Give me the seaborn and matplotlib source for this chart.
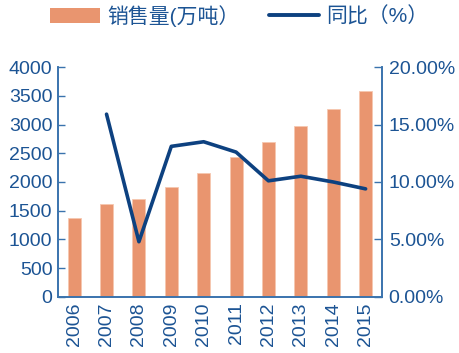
import numpy as np
import pandas as pd
import matplotlib
matplotlib.use('Agg')
import matplotlib.pyplot as plt
import seaborn as sns
from matplotlib.patches import Patch
from matplotlib.lines import Line2D
from matplotlib.ticker import FuncFormatter

# 데이터
years = ['2006', '2007', '2008', '2009', '2010', '2011', '2012', '2013', '2014', '2015']
sales = [1380, 1620, 1700, 1910, 2160, 2440, 2690, 2980, 3270, 3590]
yoy_years = ['2007', '2008', '2009', '2010', '2011', '2012', '2013', '2014', '2015']
yoy = [15.9, 4.8, 13.1, 13.5, 12.6, 10.1, 10.5, 10.0, 9.4]

bar_color = '#e9956f'
line_color = '#0d4180'
axis_color = '#3a73ad'
text_color = '#1c5494'

sns.set_style('white')
plt.rcParams['font.family'] = ['Liberation Sans', 'Noto Sans CJK SC', 'DejaVu Sans']

fig = plt.figure(figsize=(4.6, 3.53), dpi=100)
ax = fig.add_axes([0.126, 0.159, 0.704, 0.651])

df = pd.DataFrame({'year': years, 'sales': sales})
sns.barplot(data=df, x='year', y='sales', color=bar_color, width=0.4,
            saturation=1, edgecolor='#f6c7b0', linewidth=0.6, ax=ax)

ax2 = ax.twinx()
pos = [years.index(y) for y in yoy_years]
line_df = pd.DataFrame({'pos': pos, 'yoy': yoy})
sns.lineplot(data=line_df, x='pos', y='yoy', color=line_color, linewidth=2.6, ax=ax2)

ax.set_xlim(-0.5, len(years) - 0.5)
ax.set_ylim(0, 4000)
ax.set_yticks(np.arange(0, 4001, 500))
ax2.set_ylim(0, 20)
ax2.set_yticks(np.arange(0, 20.1, 5))
ax2.yaxis.set_major_formatter(FuncFormatter(lambda v, p: f'{v:.2f}%'))

ax.set_xlabel('')
ax.set_ylabel('')
ax2.set_xlabel('')
ax2.set_ylabel('')

# x축 눈금: 카테고리 경계에
ax.set_xticks(np.arange(-0.5, len(years) + 0.5, 1), minor=False)
ax.set_xticklabels([])
ax.set_xticks(np.arange(len(years)), minor=True)
ax.set_xticklabels(years, minor=True, rotation=90, fontsize=14, color=text_color)
ax.tick_params(axis='x', which='major', direction='in', length=6, color=axis_color, width=1)
ax.tick_params(axis='x', which='minor', length=0, pad=4)

ax.tick_params(axis='y', direction='in', length=5, color=axis_color, width=1,
               labelsize=14, labelcolor=text_color, pad=4)
ax2.tick_params(axis='y', direction='in', length=6, color=axis_color, width=1,
                labelsize=14, labelcolor=text_color, pad=5)

for a in (ax, ax2):
    for s in a.spines.values():
        s.set_color(axis_color)
        s.set_linewidth(1.2)
    a.spines['top'].set_visible(False)
    a.grid(False)

handles = [Patch(facecolor=bar_color, edgecolor='none'),
           Line2D([0], [0], color=line_color, linewidth=2.8)]
fig.legend(handles, ['销售量(万吨）', '同比（%）'], loc='center',
           bbox_to_anchor=(0.52, 0.955), ncol=2, frameon=False, fontsize=15,
           handlelength=2.4, handleheight=0.75, columnspacing=1.4, handletextpad=0.35,
           labelcolor=text_color, borderaxespad=0, borderpad=0)

fig.savefig('out.png', dpi=100)
